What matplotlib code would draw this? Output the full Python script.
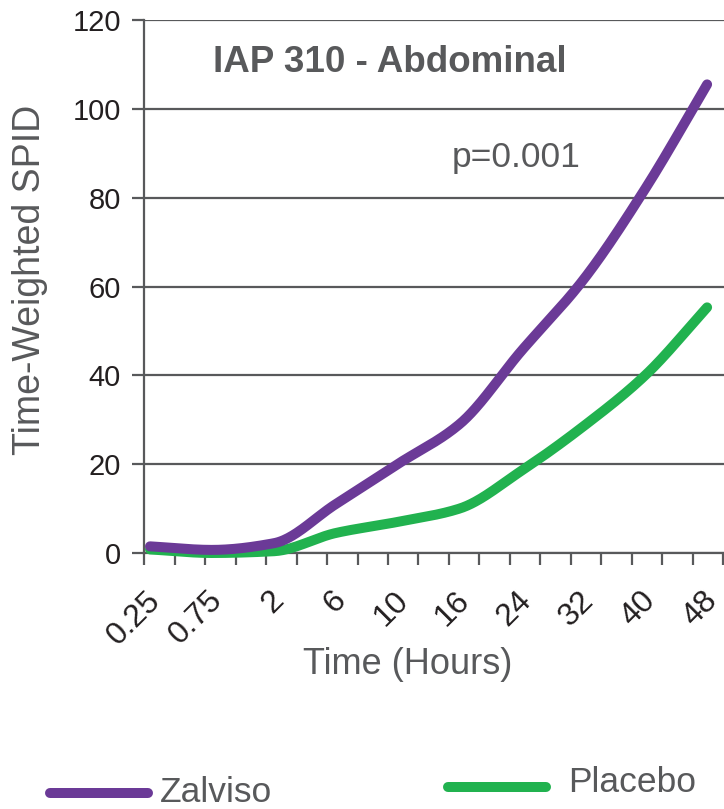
import numpy as np
import matplotlib
matplotlib.use("Agg")
import matplotlib.pyplot as plt
from matplotlib.lines import Line2D

plt.rcParams['font.family'] = ['Liberation Sans', 'DejaVu Sans']

# ---- data ----
time_labels = ["0.25", "0.75", "2", "6", "10", "16", "24", "32", "40", "48"]
zalviso = [1.5, 0.7, 2.2, 11.0, 20.0, 29.0, 45.5, 61.5, 82.0, 105.5]
placebo = [0.8, 0.0, 0.4, 4.5, 7.0, 10.0, 18.5, 28.5, 40.0, 55.3]
series_names = ["Zalviso", "Placebo"]
yticks = [0, 20, 40, 60, 80, 100, 120]

PURPLE = "#6B3A97"
GREEN = "#21B24F"
GREY = "#58595B"
DARK = "#231F20"


def pchip(x, y, n=400):
    x = np.asarray(x, float)
    y = np.asarray(y, float)
    h = np.diff(x)
    d = np.diff(y) / h
    m = np.zeros_like(y)
    for k in range(1, len(x) - 1):
        if d[k - 1] * d[k] <= 0:
            m[k] = 0
        else:
            w1 = 2 * h[k] + h[k - 1]
            w2 = h[k] + 2 * h[k - 1]
            m[k] = (w1 + w2) / (w1 / d[k - 1] + w2 / d[k])
    m[0] = d[0]
    m[-1] = d[-1]
    xs = np.linspace(x[0], x[-1], n)
    idx = np.clip(np.searchsorted(x, xs) - 1, 0, len(x) - 2)
    t = (xs - x[idx]) / h[idx]
    h00 = 2 * t**3 - 3 * t**2 + 1
    h10 = t**3 - 2 * t**2 + t
    h01 = -2 * t**3 + 3 * t**2
    h11 = t**3 - t**2
    ys = h00 * y[idx] + h10 * h[idx] * m[idx] + h01 * y[idx + 1] + h11 * h[idx] * m[idx + 1]
    return xs, ys


W, H = 724, 809
fig = plt.figure(figsize=(W / 100, H / 100), dpi=100)
ax = fig.add_axes([144 / W, (H - 553) / H, (W - 144) / W, (553 - 20) / H])

xpos = np.arange(len(time_labels))
px_per_unit = 61.9
x0 = -(150 - 144) / px_per_unit
x1 = x0 + (W - 144) / px_per_unit
ax.set_xlim(x0, x1)
ax.set_ylim(0, 120)

for s in ["top", "right"]:
    ax.spines[s].set_visible(False)
for s in ["left", "bottom"]:
    ax.spines[s].set_color(GREY)
    ax.spines[s].set_linewidth(1.6)

ax.set_yticks(yticks)
ax.set_yticklabels([str(v) for v in yticks])
ax.tick_params(axis="y", direction="out", length=8.5, width=1.6, color=GREY,
               labelsize=21, labelcolor=DARK, pad=8)
ax.yaxis.grid(True, color=GREY, linewidth=1.6)
ax.set_axisbelow(True)

step = 30.5 / px_per_unit
ax.set_xticks(np.arange(x0, x1 + 1e-6, step))
ax.tick_params(axis="x", direction="out", length=8.5, width=1.6, color=GREY,
               labelbottom=False)

for i, lab in enumerate(time_labels):
    ax.annotate(lab, xy=(xpos[i], 0), xycoords=("data", "axes fraction"),
                xytext=(6 * 0.72, -43 * 0.72), textcoords="offset points",
                rotation=45, ha="right", va="center", rotation_mode="anchor",
                fontsize=23, color=DARK, annotation_clip=False)

xs, ys = pchip(xpos, zalviso)
ax.plot(xs, ys, color=PURPLE, lw=7.2, solid_capstyle="round", clip_on=False, zorder=4)
xs, ys = pchip(xpos, placebo)
ax.plot(xs, ys, color=GREEN, lw=7.2, solid_capstyle="round", clip_on=False, zorder=3)

fig.text(390 / W, 1 - 62 / H, "IAP 310 - Abdominal", ha="center", va="center",
         fontsize=26.5, fontweight="bold", color=GREY)
fig.text(516 / W, 1 - 158 / H, "p=0.001", ha="center", va="center",
         fontsize=25.5, color=GREY)
fig.text(30 / W, 1 - 280 / H, "Time-Weighted SPID", ha="center", va="center",
         rotation=90, fontsize=27, color=GREY)
fig.text(408 / W, 1 - 665 / H, "Time (Hours)", ha="center", va="center",
         fontsize=26, color=GREY)

# legend
fig.add_artist(Line2D([50 / W, 148 / W], [1 - 793 / H, 1 - 793 / H], color=PURPLE,
                      lw=7.2, solid_capstyle="round"))
fig.text(160 / W, 1 - 792 / H, series_names[0], ha="left", va="center",
         fontsize=25.5, color=GREY)
fig.add_artist(Line2D([448 / W, 546 / W], [1 - 787 / H, 1 - 787 / H], color=GREEN,
                      lw=7.2, solid_capstyle="round"))
fig.text(568 / W, 1 - 782 / H, series_names[1], ha="left", va="center",
         fontsize=25.5, color=GREY)

fig.savefig("out.png", dpi=100)
